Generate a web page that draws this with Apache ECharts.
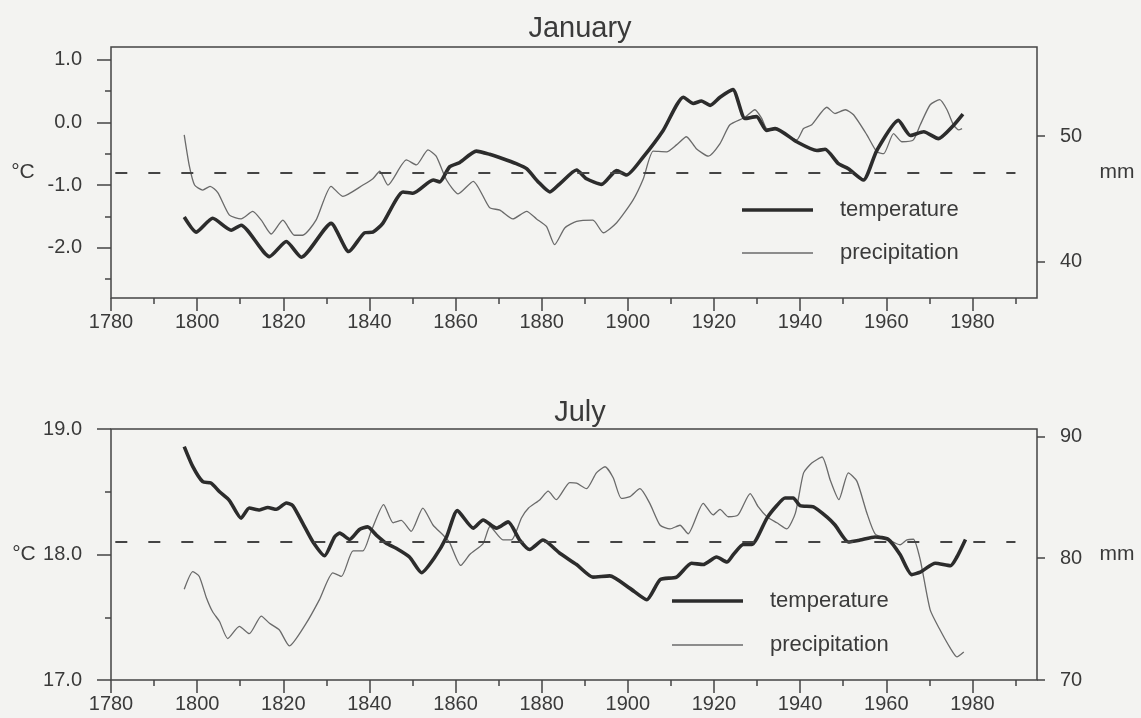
<!DOCTYPE html>
<html>
<head>
<meta charset="utf-8">
<script src="https://cdn.jsdelivr.net/npm/echarts@6/dist/echarts.min.js"></script>
<style>
html,body{margin:0;padding:0;background:#f3f3f1;}
#c{width:1141px;height:718px;}
</style>
</head>
<body>
<div id="c"></div>
<script>
// ---------- data ----------
const janTempYears = [1797,1799.8,1803.6,1807.9,1810.2,1816.8,1820.7,1824.2,1831.1,1835.2,1838.9,1840.8,1843.1,1847.8,1850.1,1854.8,1856.3,1858.6,1861,1864.8,1867.9,1871,1874.1,1876.5,1879.2,1881.9,1884.2,1888.1,1890.4,1893.9,1897.4,1899.7,1903.6,1908.2,1912.9,1915.2,1917.1,1919.1,1921.4,1924.4,1927.2,1929.9,1932.2,1934.2,1939.2,1943.9,1945.8,1948.9,1951.2,1954.7,1957.8,1962.8,1965.6,1968.7,1972.1,1975.6,1977.8];
const janTemp = [-1.51,-1.75,-1.53,-1.72,-1.64,-2.14,-1.90,-2.15,-1.61,-2.06,-1.76,-1.75,-1.61,-1.11,-1.13,-0.92,-0.95,-0.71,-0.64,-0.46,-0.51,-0.58,-0.66,-0.74,-0.95,-1.11,-0.98,-0.76,-0.90,-0.99,-0.77,-0.84,-0.55,-0.13,0.40,0.30,0.34,0.27,0.40,0.52,0.06,0.09,-0.13,-0.10,-0.31,-0.45,-0.43,-0.66,-0.74,-0.92,-0.45,0.03,-0.21,-0.15,-0.26,-0.05,0.13];

const janPrecYears = [1797,1798.2,1799.4,1801.3,1803,1804.8,1807.5,1810.2,1812.9,1814.9,1817.2,1819.9,1822.6,1824.5,1827.6,1831.1,1833.8,1838.5,1840.8,1842.4,1844.3,1848.6,1850.9,1853.6,1855.5,1857.9,1860.6,1864.1,1867.9,1870.3,1873.3,1876.5,1878.8,1881.1,1883,1885.4,1888.1,1891.9,1894.3,1897.4,1901.2,1903.6,1905.9,1909,1911.3,1913.6,1915.9,1918.7,1921.4,1923.7,1927.2,1929.5,1931.1,1932.2,1934.9,1939.2,1940.8,1942.7,1946.2,1948.1,1950.5,1952.4,1955.5,1957.8,1959.4,1961.7,1963.6,1966.3,1967.9,1970.2,1972.4,1974.1,1975.6,1976.8,1977.6];
const janPrec = [50.1,47.6,46.1,45.7,46.0,45.5,43.7,43.4,44.0,43.3,42.2,43.3,42.1,42.1,43.3,46.0,45.2,46.1,46.6,47.2,46.1,48.1,47.7,48.9,48.4,46.5,45.4,46.4,44.3,44.1,43.4,44.0,43.4,42.8,41.35,42.7,43.2,43.3,42.3,43.1,44.9,46.6,48.8,48.75,49.3,49.95,49.0,48.4,49.4,50.9,51.5,52.1,51.4,50.6,50.5,49.7,50.6,50.9,52.3,51.8,52.1,51.7,50.1,48.75,48.6,50.2,49.55,49.7,50.9,52.5,52.9,52.1,50.9,50.5,50.6];

const julTempYears = [1797,1799,1801.3,1803.2,1805.2,1807.5,1810.2,1812.1,1814.5,1816.4,1818.4,1820.7,1822.2,1824.5,1826.9,1829.6,1831.9,1833.1,1835.4,1837.7,1839.6,1841.6,1843.9,1846.2,1849.3,1852.1,1855.2,1857.9,1860.4,1864.1,1866.4,1869.5,1872.2,1874.9,1877.2,1880.3,1884.2,1888.1,1891.9,1895.8,1900.5,1904.4,1907.5,1911.3,1914.8,1917.5,1920.6,1923,1924.5,1926.8,1928.8,1932.3,1934.6,1936.5,1938.4,1940,1943.1,1946.2,1948.1,1951.2,1953.9,1957.4,1960.5,1963.2,1965.9,1967.9,1971.4,1974.9,1976.4,1978.4];
const julTemp = [18.86,18.70,18.58,18.57,18.50,18.43,18.29,18.37,18.355,18.375,18.36,18.41,18.39,18.25,18.10,17.99,18.14,18.17,18.12,18.20,18.22,18.155,18.09,18.05,17.98,17.855,17.98,18.14,18.35,18.21,18.275,18.21,18.26,18.115,18.04,18.115,18.01,17.92,17.82,17.83,17.73,17.64,17.80,17.82,17.93,17.92,17.98,17.94,18.0,18.08,18.08,18.29,18.39,18.45,18.45,18.39,18.38,18.30,18.235,18.10,18.115,18.14,18.12,18.00,17.84,17.86,17.93,17.91,17.98,18.12];

const julPrecYears = [1797,1799,1800.5,1802.1,1803.6,1805.2,1807.1,1809.8,1812.1,1814.9,1816.8,1819.1,1821.4,1825.3,1828.4,1831.5,1833.5,1836.2,1838.5,1840.4,1843.3,1845.5,1847.4,1849.7,1852.4,1854.8,1857.1,1858.6,1861.2,1863.3,1866.4,1868,1871,1873,1875.3,1876.9,1879.6,1881.5,1883.4,1886.5,1888.1,1890.4,1892.7,1894.7,1896.6,1898.5,1900.5,1902.8,1905.1,1907.5,1909.8,1912.1,1914,1917.5,1919.8,1921.4,1923.3,1925.6,1928.4,1930.3,1932.3,1934.6,1936.9,1938.9,1940.8,1942.7,1945.1,1947,1949,1951.2,1953.2,1955.5,1957.4,1960.1,1963.2,1964.8,1966.3,1967.9,1970.2,1972.5,1974.9,1976.4,1978];
const julPrec = [77.45,78.9,78.5,76.8,75.6,74.8,73.4,74.4,73.8,75.25,74.65,74.1,72.8,74.65,76.6,78.8,78.5,80.6,80.6,82.2,84.4,82.9,83.1,82.2,84.1,82.7,81.9,81.3,79.4,80.3,81.2,82.6,81.5,81.5,83.3,84.1,84.8,85.5,84.8,86.2,86.15,85.7,87.0,87.5,86.6,84.9,85.05,85.7,84.5,82.7,82.4,82.7,82.0,84.5,83.55,84.0,83.4,83.55,85.3,84.2,83.4,82.9,82.4,83.7,87.0,87.8,88.3,86.4,84.8,87.0,86.3,83.7,82.0,81.6,81.1,81.5,81.55,79.85,75.75,74.1,72.6,71.9,72.3];

const janMean = -0.8;
const julMean = 18.1;
const meanLineYears = [1781, 1990];

// tick values / labels
const yearLabels = [1780,1800,1820,1840,1860,1880,1900,1920,1940,1960,1980];
const yearMinor = [1790,1810,1830,1850,1870,1890,1910,1930,1950,1970,1990];
const janTempTicks = [-2,-1,0,1];
const janTempMinor = [-2.5,-1.5,-0.5,0.5];
const janPrecTicks = [40,50];
const julTempTicks = [17,18,19];
const julTempMinor = [17.5,18.5];
const julPrecTicks = [70,80,90];

// ---------- chart ----------
const FONT = 'Liberation Sans, Arial, sans-serif';
const INK = '#3a3a3a';
const AX = '#444444';
const THICK = '#2c2c2c', THIN = '#6a6a6a';
const pairs = (xs, ys) => xs.map((x, i) => [x, ys[i]]);

const GRID_L = 111, GRID_W = 926, GRID_H = 251;
const TOP1 = 47, TOP2 = 429;

function gridBox(top, show) {
  return {left: GRID_L, top: top, width: GRID_W, height: GRID_H, show: show,
          borderColor: AX, borderWidth: 1.5, backgroundColor: 'transparent', containLabel: false};
}
function xMain(gi) {
  return {type: 'value', gridIndex: gi, min: 1780, max: 1995, position: 'bottom',
    axisLine: {show: false, onZero: false}, splitLine: {show: false},
    axisTick: {show: true, customValues: yearLabels, length: 13, lineStyle: {color: AX, width: 1.5}},
    axisLabel: {show: true, customValues: yearLabels, formatter: v => String(v), margin: 14,
                fontSize: 20, color: INK, fontFamily: FONT}};
}
function xMinor(gi) {
  return {type: 'value', gridIndex: gi, min: 1780, max: 1995, position: 'bottom',
    axisLine: {show: false, onZero: false}, splitLine: {show: false},
    axisTick: {show: true, customValues: yearMinor, length: 6, lineStyle: {color: AX, width: 1.5}},
    axisLabel: {show: false}};
}
function yAxisDef(gi, pos, min, max, ticks, len, labels, fmt, name, gap) {
  return {type: 'value', gridIndex: gi, position: pos, min: min, max: max,
    axisLine: {show: false, onZero: false}, splitLine: {show: false},
    axisTick: {show: true, customValues: ticks, length: len, lineStyle: {color: AX, width: 1.5}},
    axisLabel: labels ? {show: true, customValues: ticks, formatter: fmt, margin: pos === 'left' ? 29 : 23,
                         fontSize: 20, color: INK, fontFamily: FONT} : {show: false},
    name: name || '', nameLocation: 'middle', nameRotate: 0, nameGap: gap || 0,
    nameTextStyle: {fontSize: 21, color: INK, fontFamily: FONT, align: 'center', verticalAlign: 'middle',
                    padding: pos === 'right' ? [8, 0, 0, 0] : 0}};
}
const f1 = v => Number(v).toFixed(1);
const f0 = v => String(v);

function meanLine(v) {
  return {silent: true, symbol: ['none', 'none'], label: {show: false},
    lineStyle: {type: [12, 21], color: AX, width: 2},
    emphasis: {disabled: true},
    data: [[{coord: [meanLineYears[0], v]}, {coord: [meanLineYears[1], v]}]]};
}
function lineSeries(name, xi, yi, data, thick, ml) {
  const s = {name: name, type: 'line', xAxisIndex: xi, yAxisIndex: yi, data: data,
    symbol: 'none', smooth: 0.2, z: thick ? 3 : 2,
    lineStyle: {width: thick ? 3.6 : 1.3, color: thick ? THICK : THIN},
    itemStyle: {color: thick ? THICK : THIN}};
  if (ml !== undefined) s.markLine = meanLine(ml);
  return s;
}

const legendData = [
  {name: 'temperature', icon: 'path://M0,0H71V3.6H0Z', itemStyle: {color: THICK, borderWidth: 0}},
  {name: 'precipitation', icon: 'path://M0,0H71V1.3H0Z', itemStyle: {color: THIN, borderWidth: 0}}
];
const legendBase = {
  data: legendData, orient: 'vertical', itemWidth: 71, itemHeight: 22,
  padding: 0, selectedMode: false, symbolKeepAspect: true,
  itemStyle: {borderWidth: 0},
  textStyle: {fontSize: 22, color: INK, fontFamily: FONT, padding: [0, 0, 0, 22], lineHeight: 22}
};

const option = {
  animation: false,
  backgroundColor: '#f3f3f1',
  title: [
    {text: 'January', left: 575, top: 9, textAlign: 'center',
     textStyle: {fontSize: 29, fontWeight: 'normal', color: INK, fontFamily: FONT}},
    {text: 'July', left: 575, top: 393, textAlign: 'center',
     textStyle: {fontSize: 29, fontWeight: 'normal', color: INK, fontFamily: FONT}}
  ],
  legend: [
    Object.assign({}, legendBase, {left: 742, top: 199, itemGap: 21}),
    Object.assign({}, legendBase, {left: 672, top: 590, itemGap: 22})
  ],
  grid: [gridBox(TOP1, true), gridBox(TOP2, true), gridBox(TOP1, false), gridBox(TOP2, false)],
  xAxis: [xMain(0), xMain(1), xMinor(2), xMinor(3)],
  yAxis: [
    yAxisDef(0, 'left', -2.8, 1.2, janTempTicks, 14, true, f1, '°C', 88),
    yAxisDef(0, 'right', 37.1, 57.1, janPrecTicks, 8, true, f0, 'mm', 80),
    yAxisDef(1, 'left', 17, 19, julTempTicks, 14, true, f1, '°C', 87),
    yAxisDef(1, 'right', 70, 90.6, julPrecTicks, 8, true, f0, 'mm', 80),
    yAxisDef(2, 'left', -2.8, 1.2, janTempMinor, 6, false),
    yAxisDef(3, 'left', 17, 19, julTempMinor, 6, false)
  ],
  series: [
    lineSeries('precipitation', 0, 1, pairs(janPrecYears, janPrec), false),
    lineSeries('temperature', 0, 0, pairs(janTempYears, janTemp), true, janMean),
    lineSeries('precipitation', 1, 3, pairs(julPrecYears, julPrec), false),
    lineSeries('temperature', 1, 2, pairs(julTempYears, julTemp), true, julMean)
  ]
};

const chart = echarts.init(document.getElementById('c'), null, {renderer: 'canvas'});
chart.setOption(option);
</script>
</body>
</html>
